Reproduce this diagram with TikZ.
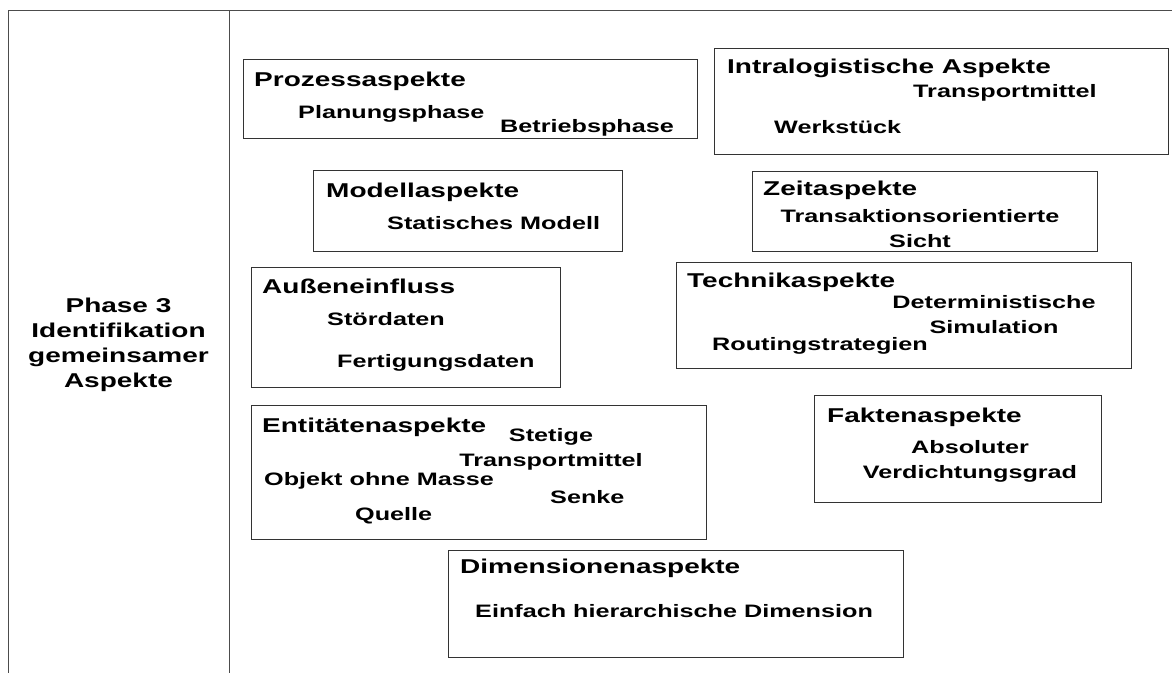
\documentclass[tikz,border=0pt]{standalone}
\usepackage{fontspec}
\setmainfont{Liberation Sans}[FakeStretch=1.4]
\usepackage{tikz}
\usetikzlibrary{positioning}
\tikzstyle{aspect} = [rectangle, draw=black!80, line width=0.9pt, anchor=north west, inner sep=0pt]
\tikzstyle{head} = [anchor=base west, inner sep=0pt, font=\fontsize{20}{25}\selectfont\bfseries]
\tikzstyle{item} = [anchor=base west, inner sep=0pt, font=\fontsize{18}{25}\selectfont\bfseries]
\tikzstyle{pair} = [item, anchor=base, align=center]
\tikzstyle{rule} = [draw=black!70, line width=1pt]

\begin{document}
\begin{tikzpicture}[x=1pt, y=-1pt]
		\useasboundingbox (0,0) rectangle (1172,673);
		\draw [rule] (1172,10) -- (8,10) -- (8,673);
		\draw [rule] (229,10) -- (229,673);
		\node (phase) [pair, font=\fontsize{20}{25}\selectfont\bfseries] at (118.5,387) {Phase 3\\Identifikation\\gemeinsamer\\Aspekte};
		\node (pro) [aspect, minimum width=454pt, minimum height=79pt] at (243,59) {};
		\node (intra) [aspect, minimum width=454pt, minimum height=106pt] at (714,48) {};
		\node (mod) [aspect, minimum width=309pt, minimum height=81pt] at (313,170) {};
		\node (zeit) [aspect, minimum width=345pt, minimum height=80pt] at (752,171) {};
		\node (aus) [aspect, minimum width=309pt, minimum height=120pt] at (251,267) {};
		\node (tech) [aspect, minimum width=455pt, minimum height=106pt] at (676,262) {};
		\node (ent) [aspect, minimum width=455pt, minimum height=134pt] at (251,405) {};
		\node (fak) [aspect, minimum width=287pt, minimum height=107pt] at (814,395) {};
		\node (dim) [aspect, minimum width=455pt, minimum height=107pt] at (448,550) {};
		\node (pro_h) [head] at (254,86) {Prozessaspekte};
		\node (pro_a) [item] at (298,118) {Planungsphase};
		\node (pro_b) [item] at (500,132) {Betriebsphase};
		\node (intra_h) [head] at (727,73) {Intralogistische Aspekte};
		\node (intra_a) [item] at (913,97) {Transportmittel};
		\node (intra_b) [item] at (774,133) {Werkstück};
		\node (mod_h) [head] at (326,197) {Modellaspekte};
		\node (mod_a) [item] at (387,229) {Statisches Modell};
		\node (zeit_h) [head] at (763,195) {Zeitaspekte};
		\node (zeit_a) [pair] at (920,247) {Transaktionsorientierte\\Sicht};
		\node (aus_h) [head] at (262,293) {Außeneinfluss};
		\node (aus_a) [item] at (327,325) {Stördaten};
		\node (aus_b) [item] at (337,367) {Fertigungsdaten};
		\node (tech_h) [head] at (687,287) {Technikaspekte};
		\node (tech_a) [pair] at (994,333) {Deterministische\\Simulation};
		\node (tech_b) [item] at (712,350) {Routingstrategien};
		\node (ent_h) [head] at (262,432) {Entitätenaspekte};
		\node (ent_a) [pair] at (551,466) {Stetige\\Transportmittel};
		\node (ent_b) [item] at (264,485) {Objekt ohne Masse};
		\node (ent_c) [item] at (550,503) {Senke};
		\node (ent_d) [item] at (355,520) {Quelle};
		\node (fak_h) [head] at (827,422) {Faktenaspekte};
		\node (fak_a) [pair] at (970,478) {Absoluter\\Verdichtungsgrad};
		\node (dim_h) [head] at (460,573) {Dimensionenaspekte};
		\node (dim_a) [item] at (475,617) {Einfach hierarchische Dimension};
	\end{tikzpicture}
\end{document}
